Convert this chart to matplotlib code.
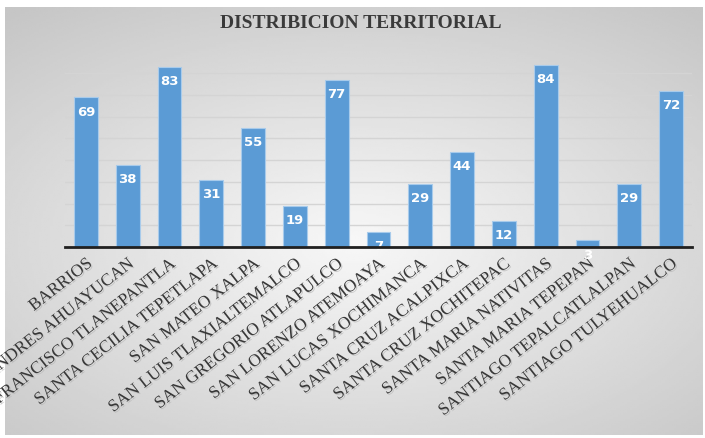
import matplotlib.pyplot as plt
import matplotlib.patheffects as pe
import numpy as np

# Datos del grafico
barrios = ['BARRIOS', 'SAN ANDRES AHUAYUCAN', 'SAN FRANCISCO TLANEPANTLA',
           'SANTA CECILIA TEPETLAPA', 'SAN MATEO XALPA', 'SAN LUIS TLAXIALTEMALCO',
           'SAN GREGORIO ATLAPULCO', 'SAN LORENZO ATEMOAYA', 'SAN LUCAS XOCHIMANCA',
           'SANTA CRUZ ACALPIXCA', 'SANTA CRUZ XOCHITEPAC', 'SANTA MARIA NATIVITAS',
           'SANTA MARIA TEPEPAN', 'SANTIAGO TEPALCATLALPAN', 'SANTIAGO TULYEHUALCO']
valores = [69, 38, 83, 31, 55, 19, 77, 7, 29, 44, 12, 84, 3, 29, 72]
grid_ticks = [0, 10, 20, 30, 40, 50, 60, 70, 80]

fig = plt.figure(figsize=(7.05, 4.38), dpi=100)

# Fondo con degradado gris
bg = fig.add_axes([5 / 705, 3 / 438, 698 / 705, 428 / 438])
yy, xx = np.mgrid[-1:1:200j, -1:1:300j]
r = np.sqrt((xx * 0.9) ** 2 + ((yy - 0.1) * 1.0) ** 2)
bg.imshow(0.97 - 0.14 * np.clip(r, 0, 1.4), cmap='gray', vmin=0, vmax=1,
          aspect='auto', extent=[0, 1, 0, 1])
bg.axis('off')

ax = fig.add_axes([65 / 705, 191 / 438, 627 / 705, 191 / 438])
ax.patch.set_alpha(0)
x = np.arange(len(barrios))
bars = ax.bar(x, valores, width=0.57, color='#5b9bd5', edgecolor='#a8cbeb',
              linewidth=0.8, zorder=3)

for b, v in zip(bars, valores):
    ax.annotate(str(v), (b.get_x() + b.get_width() / 2, v), xytext=(0, -6),
                textcoords='offset points', ha='center', va='top',
                color='white', fontsize=9.5, fontweight='bold', zorder=4)

ax.set_xlim(-0.5, len(barrios) - 0.5)
ax.set_ylim(0, 88)
ax.set_yticks(grid_ticks)
ax.yaxis.grid(True, color='#d4d4d4', linewidth=1, zorder=0)
ax.tick_params(axis='y', left=False, labelleft=False)
ax.tick_params(axis='x', length=0, pad=6)
for s in ['left', 'right', 'top']:
    ax.spines[s].set_visible(False)
ax.spines['bottom'].set_color('#202020')
ax.spines['bottom'].set_linewidth(2)
ax.spines['bottom'].set_zorder(5)

ax.set_xticks(x)
ax.set_xticklabels(barrios, rotation=38, ha='right', rotation_mode='anchor',
                   fontsize=12.5, family='Liberation Serif', color='#383838')
for t in ax.get_xticklabels():
    t.set_path_effects([pe.withSimplePatchShadow(offset=(1, -1),
                                                 shadow_rgbFace='#b0b0b0',
                                                 alpha=0.6)])

fig.text(0.512, 1 - 23 / 438, 'DISTRIBICION TERRITORIAL', ha='center',
         va='center', fontsize=14, fontweight='bold',
         family='Liberation Serif', color='#3a3a3a')

fig.savefig('out.png', dpi=100)
